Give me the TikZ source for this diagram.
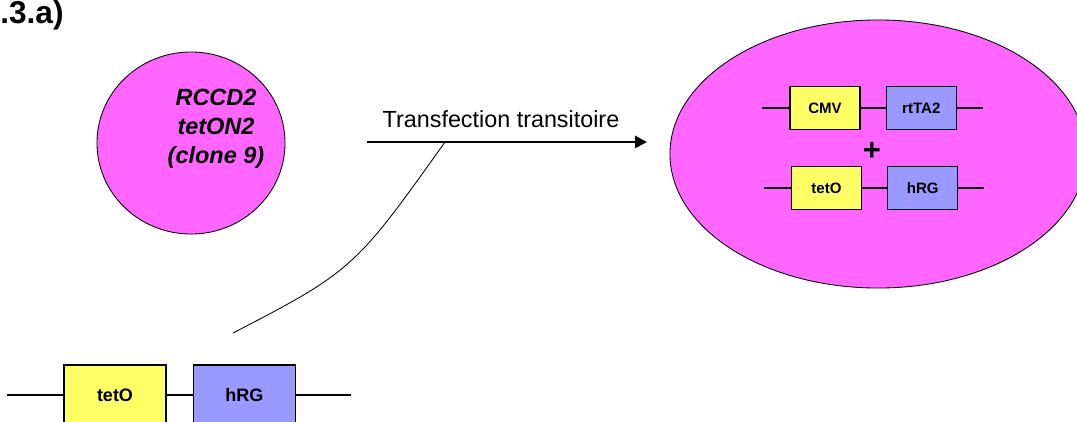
\documentclass[tikz,border=0pt]{standalone}
\usepackage{fontspec}
\setmainfont{Liberation Sans}
\usetikzlibrary{positioning,arrows.meta,shapes.geometric}
\definecolor{cellpink}{HTML}{FF66FF}
\definecolor{promyellow}{HTML}{FFFF66}
\definecolor{geneblue}{HTML}{9999FF}
\tikzset{
fig/.style={
    x=0.025cm,
    y=-0.025cm
},
cell/.style={
    ellipse,
    draw,
    fill=cellpink,
    inner sep=0pt,
    line width=0.6pt
},
promoter/.style={
    rectangle,
    draw,
    fill=promyellow,
    inner sep=0pt,
    line width=0.9pt,
    font=\fontsize{10.7}{12}\selectfont\bfseries
},
gene/.style={
    promoter,
    fill=geneblue
},
inbox/.style={
    minimum width=1.75cm,
    minimum height=1.075cm
},
outbox/.style={
    minimum width=2.55cm,
    minimum height=1.5cm,
    font=\fontsize{12.8}{15}\selectfont\bfseries
},
dna/.style={
    line width=1pt
},
transfect/.style={
    -{Triangle[length=3mm,width=3mm]},
    line width=2pt
},
lead/.style={
    line width=0.6pt
}}

\begin{document}
\begin{tikzpicture}[fig]
\clip (0,0) rectangle (1077,421);
\node[anchor=base west, inner sep=0pt, font=\fontsize{22.5}{22.5}\selectfont\bfseries]    (title)    at (0,23)    {.3.a)};

% cellules de depart
\node[cell, minimum width=4.7cm, minimum height=4.55cm]    (clone)    at (191,143)    {};
\node[align=center, font=\fontsize{16.7}{20.6}\selectfont\bfseries\itshape]    (clonetxt)    at (216,129)    {RCCD2\\tetON2\\(clone 9)};

% fleche
\coordinate    (tstart)    at (367,142);
\coordinate    (tend)      at (647,142);
\path    (tstart)    edge[transfect]    (tend);
\node[anchor=base, font=\fontsize{16.6}{20}\selectfont]    (ttxt)    at (501,127)    {Transfection transitoire};

% cellules transfectees
\node[cell, minimum width=10.4cm, minimum height=6.7cm]    (transf)    at (878,154)    {};
\node[promoter, inbox]    (cmv)     at (825,108)             {CMV};
\node[gene, inbox]        (rtta)    [right=0.625cm of cmv]   {rtTA2};
\node[font=\fontsize{22}{22}\selectfont\bfseries]    (plus)    at (872,151)    {+};
\node[promoter, inbox]    (teto)    at (826.5,188)           {tetO};
\node[gene, inbox]        (hrg)     [right=0.625cm of teto]  {hRG};
\coordinate[left=0.675cm of cmv]     (cmvL);
\coordinate[right=0.65cm of rtta]    (rttaR);
\coordinate[left=0.675cm of teto]    (tetoL);
\coordinate[right=0.65cm of hrg]     (hrgR);

\path    (cmvL)    edge[dna]    (cmv);
\path    (cmv)     edge[dna]    (rtta);
\path    (rtta)    edge[dna]    (rttaR);
\path    (tetoL)   edge[dna]    (teto);
\path    (teto)    edge[dna]    (hrg);
\path    (hrg)     edge[dna]    (hrgR);

% construction
\node[promoter, outbox]    (tetoB)    at (115,395)               {tetO};
\node[gene, outbox]        (hrgB)     [right=0.65cm of tetoB]    {hRG};
\coordinate[left=1.4cm of tetoB]      (tetoBL);
\coordinate[right=1.375cm of hrgB]    (hrgBR);

\path    (tetoBL)   edge[dna]    (tetoB);
\path    (tetoB)    edge[dna]    (hrgB);
\path    (hrgB)     edge[dna]    (hrgBR);

\coordinate    (leadfoot)    at (233,333);
\coordinate    (leadtip)     at (445,142);
\draw[lead]    (leadfoot) .. controls (353,271) and (356,267) .. (leadtip);
\end{tikzpicture}
\end{document}
